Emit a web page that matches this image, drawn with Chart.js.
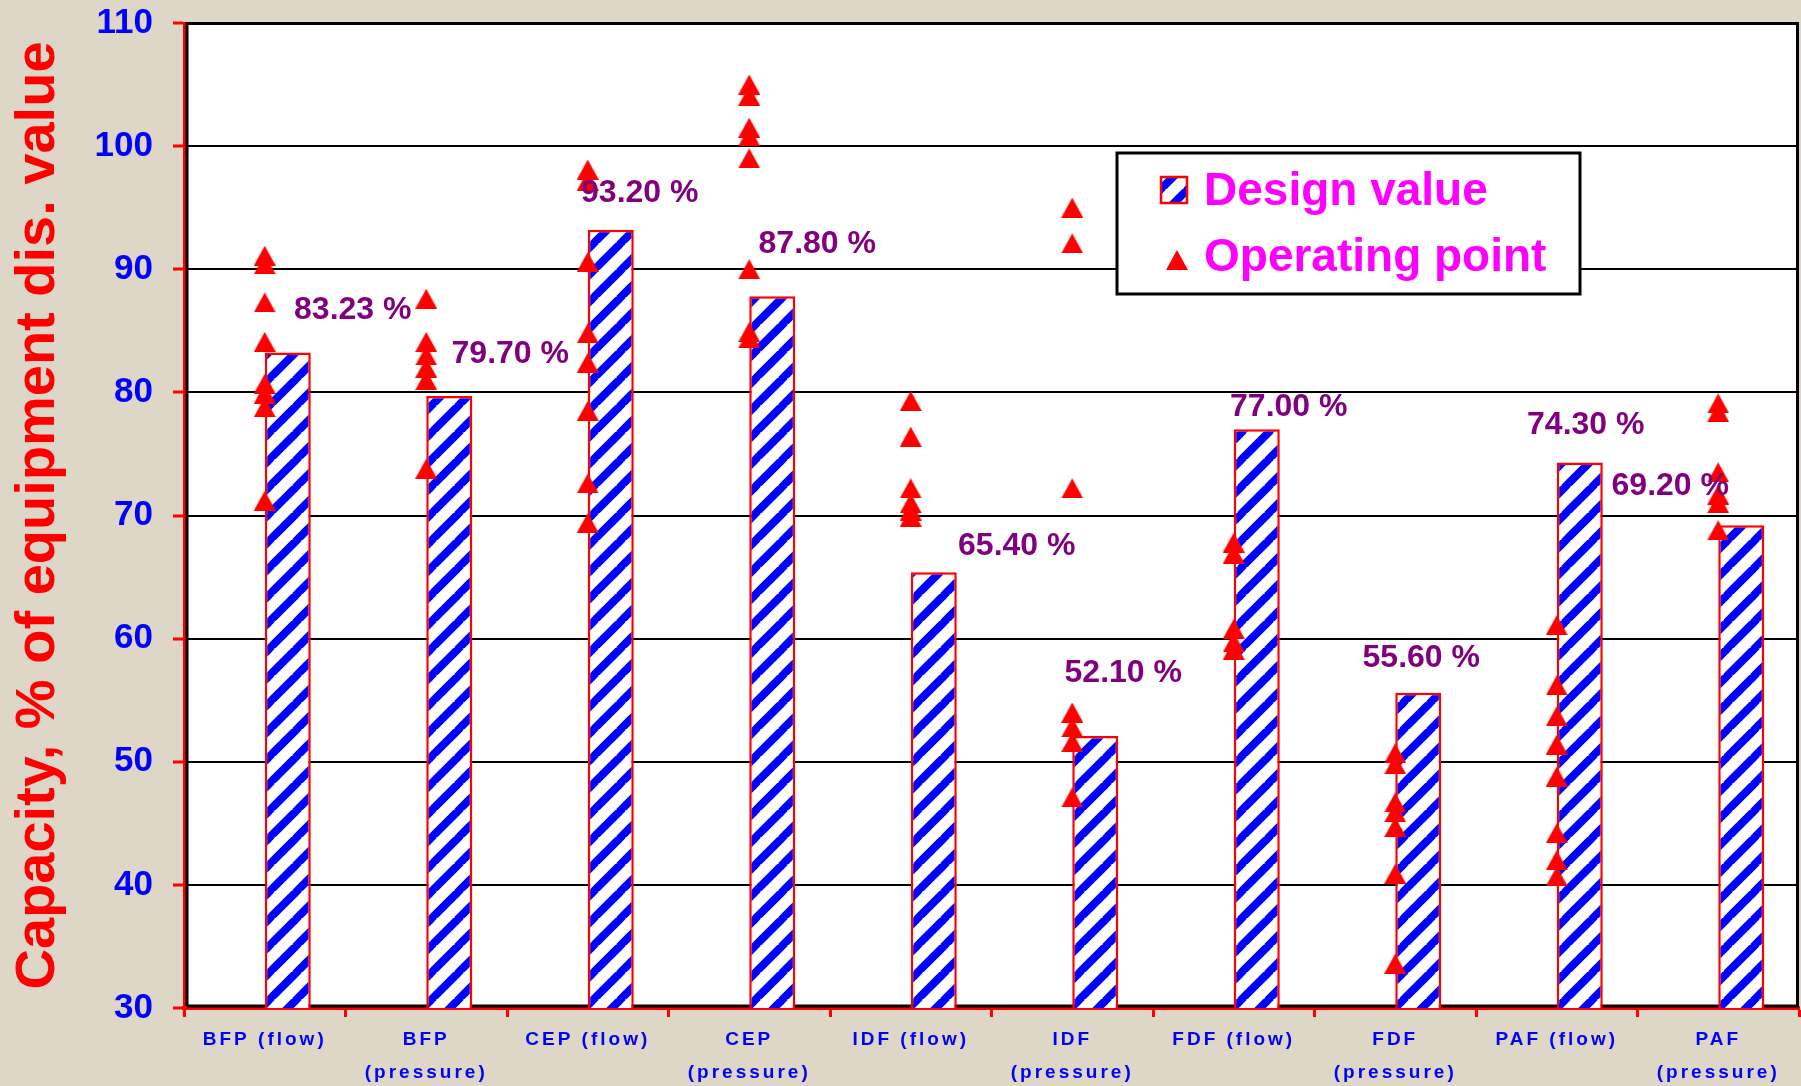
<!DOCTYPE html>
<html>
<head>
<meta charset="utf-8">
<title>Capacity vs design value</title>
<script src="https://cdn.jsdelivr.net/npm/chart.js@4/dist/chart.umd.min.js"></script>
<style>
    html, body { margin: 0; padding: 0; background: #ded6c6; }
    #wrap { width: 1801px; height: 1086px; }
</style>
</head>
<body>
<div id="wrap"><canvas id="capacity-chart" width="1801" height="1086"></canvas></div>
<script>
// Equipment (line break = second row on the axis)
var categories = [
    'BFP (flow)', 'BFP\n(pressure)', 'CEP (flow)', 'CEP\n(pressure)', 'IDF (flow)',
    'IDF\n(pressure)', 'FDF (flow)', 'FDF\n(pressure)', 'PAF (flow)', 'PAF\n(pressure)'
];

// Design value, % of equipment dis. value
var designValues = [83.23, 79.70, 93.20, 87.80, 65.40, 52.10, 77.00, 55.60, 74.30, 69.20];

// Operating points per equipment
var opBFPflow = [91.1, 90.4, 87.3, 84.1, 80.7, 79.9, 78.8, 71.2];
var opBFPpressure = [87.6, 84.1, 83.0, 82.0, 81.0, 73.8];
var opCEPflow = [98.1, 97.2, 90.6, 84.8, 82.4, 78.5, 72.6, 69.4];
var opCEPpressure = [105.0, 104.1, 101.5, 100.8, 99.0, 90.0, 84.9, 84.4];
var opIDFflow = [79.3, 76.4, 72.2, 71.0, 70.4, 69.9];
var opIDFpressure = [95.0, 92.1, 72.2, 54.0, 52.8, 51.6, 47.1];
var opFDFflow = [67.8, 66.9, 60.8, 59.7, 59.1];
var opFDFpressure = [50.7, 49.8, 46.7, 45.9, 44.7, 40.9, 33.6];
var opPAFflow = [61.1, 56.2, 53.7, 51.4, 48.8, 44.2, 42.0, 40.7];
var opPAFpressure = [79.1, 78.4, 73.5, 71.7, 71.0, 68.8];

var yMin = 30;
var yMax = 110;
var yStep = 10;

(function() {
    'use strict';

    var FONT = '"Liberation Sans", Arial, Helvetica, sans-serif';
    var RED = '#ff0000';
    var BLUE = '#0000ff';

    var opSeries = [opBFPflow, opBFPpressure, opCEPflow, opCEPpressure, opIDFflow,
        opIDFpressure, opFDFflow, opFDFpressure, opPAFflow, opPAFpressure];

    // scatter points on the category axis
    var opPoints = [];
    opSeries.forEach(function(list, i) {
        list.forEach(function(v) {
            opPoints.push({ x: categories[i], y: v });
        });
    });

    /**
     * Diagonal blue hatch like the Excel fill
     */
    function makeHatch(ctx) {
        var t = 27;
        var tile = document.createElement('canvas');
        tile.width = t;
        tile.height = t;
        var c = tile.getContext('2d');
        c.fillStyle = '#ffffff';
        c.fillRect(0, 0, t, t);
        c.strokeStyle = BLUE;
        c.lineWidth = 8;
        for (var k = -1; k <= 1; k++) {
            c.beginPath();
            c.moveTo(k * t - 2, t + 2);
            c.lineTo(k * t + t + 2, -2);
            c.stroke();
        }
        return ctx.createPattern(tile, 'repeat');
    }

    /**
     * Triangle marker (centred on its box, as in Excel)
     */
    function makeTriangle() {
        var cv = document.createElement('canvas');
        cv.width = 22;
        cv.height = 20;
        var c = cv.getContext('2d');
        c.fillStyle = RED;
        c.beginPath();
        c.moveTo(11, 0);
        c.lineTo(22, 20);
        c.lineTo(0, 20);
        c.closePath();
        c.fill();
        return cv;
    }

    var canvas = document.getElementById('capacity-chart');
    var ctx = canvas.getContext('2d');
    var hatch = makeHatch(ctx);
    var triangle = makeTriangle();

    // value labels placement (px from category centre / bar top)
    var labelDx = [88, 84, 52, 68, 106, 51, 55, 26, 29, -48];
    var labelDy = [-42, -42, -37, -52, -26, -63, -22, -35, -37, -39];

    var backgroundPlugin = {
        id: 'background',
        beforeDraw: function(chart) {
            var c = chart.ctx;
            var a = chart.chartArea;
            c.save();
            c.fillStyle = '#ded6c6';
            c.fillRect(0, 0, chart.width, chart.height);
            c.fillStyle = '#ffffff';
            c.fillRect(a.left, a.top, a.right - a.left, a.bottom - a.top);
            c.restore();
        },
        beforeDatasetsDraw: function(chart) {
            var c = chart.ctx;
            var a = chart.chartArea;
            c.save();
            c.strokeStyle = '#000000';
            c.lineWidth = 3;
            c.beginPath();
            c.moveTo(a.left + 3, a.bottom - 2);
            c.lineTo(a.left + 3, a.top + 0.5);
            c.lineTo(a.right - 1.5, a.top + 0.5);
            c.lineTo(a.right - 1.5, a.bottom - 2);
            c.lineTo(a.left + 3, a.bottom - 2);
            c.stroke();
            c.restore();
        }
    };

    var labelsPlugin = {
        id: 'valueLabels',
        afterDatasetsDraw: function(chart) {
            var c = chart.ctx;
            var xs = chart.scales.x;
            var ys = chart.scales.y;
            c.save();
            c.font = 'bold 32px ' + FONT;
            c.fillStyle = '#800080';
            c.textAlign = 'center';
            c.textBaseline = 'middle';
            designValues.forEach(function(v, i) {
                var x = xs.getPixelForValue(i) + labelDx[i];
                var y = ys.getPixelForValue(v) + labelDy[i];
                c.fillText(v.toFixed(2) + ' %', x, y);
            });
            c.restore();
        },
        afterDraw: function(chart) {
            var c = chart.ctx;
            var xs = chart.scales.x;
            var a = chart.chartArea;

            // category labels, letter-spaced
            c.save();
            c.font = 'bold 19px ' + FONT;
            c.fillStyle = BLUE;
            c.textAlign = 'center';
            c.textBaseline = 'middle';
            c.letterSpacing = '3px';
            categories.forEach(function(label, i) {
                var x = xs.getPixelForValue(i);
                label.split('\n').forEach(function(line, k) {
                    c.fillText(line, x, a.bottom + 32 + k * 33);
                });
            });
            c.restore();

            // legend box
            var ds = chart.data.datasets;
            c.save();
            c.fillStyle = '#ffffff';
            c.fillRect(1117, 153, 463, 141);
            c.strokeStyle = '#000000';
            c.lineWidth = 3;
            c.strokeRect(1117, 153, 463, 141);

            c.fillStyle = hatch;
            c.fillRect(1161, 177, 26, 26);
            c.strokeStyle = RED;
            c.lineWidth = 2.5;
            c.strokeRect(1161, 177, 26, 26);
            c.drawImage(triangle, 1166, 250);

            c.font = 'bold 46px ' + FONT;
            c.fillStyle = '#ff00ff';
            c.textAlign = 'left';
            c.textBaseline = 'alphabetic';
            c.fillText(ds[2].label, 1204, 205);
            c.fillText(ds[0].label, 1204, 271);
            c.restore();
        }
    };

    new Chart(canvas, {
        type: 'bar',
        data: {
            labels: categories,
            datasets: [{
                type: 'line',
                label: 'Operating point',
                data: opPoints,
                showLine: false,
                pointStyle: triangle,
                pointRadius: 11,
                pointHoverRadius: 11,
                backgroundColor: RED,
                borderColor: RED
            }, {
                // empty slot so the design bars sit right of the points
                label: '',
                data: categories.map(function() { return null; })
            }, {
                label: 'Design value',
                data: designValues,
                backgroundColor: hatch,
                borderColor: RED,
                borderWidth: 2.5,
                borderSkipped: 'start'
            }]
        },
        options: {
            responsive: false,
            animation: false,
            events: [],
            layout: { autoPadding: false, padding: { top: 23, right: 2, left: 0, bottom: 0 } },
            datasets: {
                bar: { categoryPercentage: 0.57, barPercentage: 1 }
            },
            plugins: {
                legend: { display: false },
                tooltip: { enabled: false }
            },
            scales: {
                x: {
                    offset: true,
                    ticks: { display: false },
                    grid: {
                        offset: true,
                        drawOnChartArea: false,
                        drawTicks: true,
                        tickLength: 9,
                        tickColor: RED,
                        tickWidth: 3
                    },
                    border: { color: RED, width: 4 },
                    afterFit: function(scale) {
                        scale.height = 78;
                        scale.paddingLeft = 0;
                        scale.paddingRight = 0;
                    }
                },
                y: {
                    min: yMin,
                    max: yMax,
                    ticks: {
                        stepSize: yStep,
                        color: BLUE,
                        padding: 20,
                        font: { family: FONT, size: 35, weight: 'bold' }
                    },
                    grid: {
                        color: '#000000',
                        lineWidth: 2,
                        tickLength: 11,
                        tickColor: RED,
                        tickWidth: 3
                    },
                    border: { color: RED, width: 3 },
                    title: {
                        display: true,
                        text: 'Capacity, % of equipment dis. value',
                        color: RED,
                        padding: { top: 5, bottom: 0 },
                        font: { family: FONT, size: 56, weight: 'bold' }
                    },
                    afterFit: function(scale) {
                        scale.width = 184;
                        scale.paddingTop = 0;
                        scale.paddingBottom = 0;
                    }
                }
            }
        },
        plugins: [backgroundPlugin, labelsPlugin]
    });

})();
</script>
</body>
</html>
